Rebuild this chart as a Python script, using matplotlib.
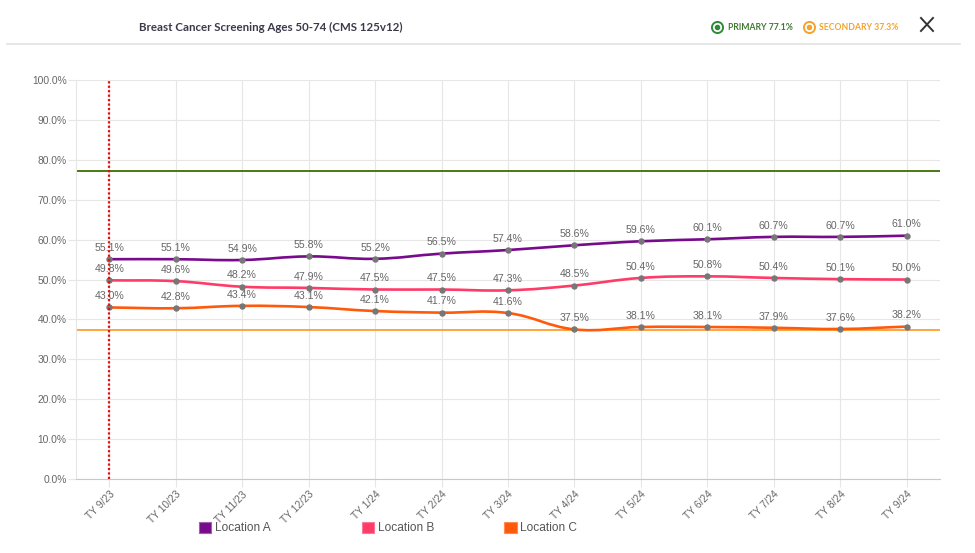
import numpy as np
import matplotlib
matplotlib.use('Agg')
import matplotlib.pyplot as plt
from matplotlib.path import Path
from matplotlib.patches import PathPatch, Patch
from matplotlib.lines import Line2D

# chart data
months = ['TY 9/23', 'TY 10/23', 'TY 11/23', 'TY 12/23', 'TY 1/24', 'TY 2/24', 'TY 3/24',
          'TY 4/24', 'TY 5/24', 'TY 6/24', 'TY 7/24', 'TY 8/24', 'TY 9/24']
loc_a = [55.1, 55.1, 54.9, 55.8, 55.2, 56.5, 57.4, 58.6, 59.6, 60.1, 60.7, 60.7, 61.0]
loc_b = [49.8, 49.6, 48.2, 47.9, 47.5, 47.5, 47.3, 48.5, 50.4, 50.8, 50.4, 50.1, 50.0]
loc_c = [43.0, 42.8, 43.4, 43.1, 42.1, 41.7, 41.6, 37.5, 38.1, 38.1, 37.9, 37.6, 38.2]
series_names = ['Location A', 'Location B', 'Location C']
primary_goal = 77.1
secondary_goal = 37.3
marker_month = 'TY 9/23'

colors = ['#780a8c', '#ff3b68', '#ff5a0c']
edge_colors = ['#a060b0', '#ff7898', '#ff8c50']
grid_c = '#e6e6e6'
txt_c = '#666666'

plt.rcParams['font.family'] = ['Liberation Sans', 'DejaVu Sans']


def spline_path(xs, ys, xscale, yscale, tension=0.4):
    # chart.js style bezier, control points computed in pixel space
    px = np.asarray(xs, float) * xscale
    py = np.asarray(ys, float) * yscale
    n = len(px)
    cp_prev = [None] * n
    cp_next = [None] * n
    for i in range(n):
        p0 = (px[max(i - 1, 0)], py[max(i - 1, 0)])
        p1 = (px[i], py[i])
        p2 = (px[min(i + 1, n - 1)], py[min(i + 1, n - 1)])
        d01 = np.hypot(p1[0] - p0[0], p1[1] - p0[1])
        d12 = np.hypot(p2[0] - p1[0], p2[1] - p1[1])
        s01 = d01 / (d01 + d12) if d01 + d12 else 0
        s12 = d12 / (d01 + d12) if d01 + d12 else 0
        fa, fb = tension * s01, tension * s12
        cp_prev[i] = (p1[0] - fa * (p2[0] - p0[0]), p1[1] - fa * (p2[1] - p0[1]))
        cp_next[i] = (p1[0] + fb * (p2[0] - p0[0]), p1[1] + fb * (p2[1] - p0[1]))
    verts = [(px[0], py[0])]
    codes = [Path.MOVETO]
    for i in range(1, n):
        verts += [cp_next[i - 1], cp_prev[i], (px[i], py[i])]
        codes += [Path.CURVE4] * 3
    verts = [(vx / xscale, vy / yscale) for vx, vy in verts]
    return Path(verts, codes)


fig = plt.figure(figsize=(9.75, 5.53), dpi=100)
ax = fig.add_axes([0.078, 0.134, 0.886, 0.721])

x = np.arange(len(months))
ax.set_xlim(-0.5, len(months) - 0.5)
ax.set_ylim(0, 100)

ax.axhline(primary_goal, color='#4a7a12', lw=1.4, zorder=2)
ax.axhline(secondary_goal, color='#ffa53d', lw=1.4, zorder=2)

for vals, col in zip([loc_a, loc_b, loc_c], colors):
    path = spline_path(x, vals, 66.5, 3.99)
    ax.add_patch(PathPatch(path, fill=False, ec=col, lw=1.9, zorder=3, capstyle='round'))
    ax.plot(x, vals, 'o', ms=3.6, color='#777777', zorder=4)
    for xi, v in zip(x, vals):
        ax.annotate(f'{v:.1f}%', (xi, v), xytext=(0, 4.5), textcoords='offset points',
                    ha='center', va='bottom', fontsize=7.6, color=txt_c, zorder=5)

ax.axvline(months.index(marker_month), color='#e01010', lw=1.6, ls=(0, (1, 1)), zorder=6)

ax.set_xticks(x)
ax.set_xticklabels(months, rotation=45, ha='right', rotation_mode='anchor')
yt = np.arange(0, 101, 10)
ax.set_yticks(yt)
ax.set_yticklabels([f'{v:.1f}%' for v in yt])
ax.tick_params(axis='both', length=6, color=grid_c, labelsize=7.4, labelcolor=txt_c)
ax.tick_params(axis='y', pad=0.8)
ax.tick_params(axis='x', pad=1.5)
ax.grid(True, color=grid_c, lw=0.8, zorder=0)
ax.set_axisbelow(True)
for s in ['top', 'right']:
    ax.spines[s].set_visible(False)
ax.spines['left'].set_color(grid_c)
ax.spines['bottom'].set_color('#c8c8c8')

# bottom legend, one entry each (uneven spacing in the original)
for name, col, ec, lx in zip(series_names, colors, edge_colors, [0.204, 0.371, 0.517]):
    fig.legend([Patch(facecolor=col, edgecolor=ec, lw=0.8)], [name], loc='center left',
               bbox_to_anchor=(lx, 0.045), frameon=False, fontsize=8.6,
               handlelength=1.05, handleheight=1.05, handletextpad=0.3,
               borderpad=0, borderaxespad=0, labelcolor='#555555')

# header
fig.text(0.1425, 0.951, 'Breast Cancer Screening Ages 50-74 (CMS 125v12)', family='Lato',
         weight='bold', fontsize=8.3, color='#3a3a4a', va='center')
fig.add_artist(Line2D([0.007, 0.985], [0.920, 0.920], color='#e2e2e2', lw=1.2))
for xc, col in [(0.7355, '#2e8b3a'), (0.83, '#f5a32a')]:
    fig.add_artist(Line2D([xc], [0.951], marker='o', ms=8, mfc='white', mec=col, mew=1.4))
    fig.add_artist(Line2D([xc], [0.951], marker='o', ms=3, mfc=col, mec=col))
fig.text(0.7465, 0.951, f'PRIMARY {primary_goal}%', family='Lato', weight='bold',
         fontsize=6.2, color='#3f7a32', va='center')
fig.text(0.8395, 0.951, f'SECONDARY {secondary_goal}%', family='Lato', weight='bold',
         fontsize=6.2, color='#f5a32a', va='center')
fig.add_artist(Line2D([0.9446, 0.9569], [0.9675, 0.944], color='#333333', lw=1.4))
fig.add_artist(Line2D([0.9446, 0.9569], [0.944, 0.9675], color='#333333', lw=1.4))

fig.savefig('out.png', dpi=100)
